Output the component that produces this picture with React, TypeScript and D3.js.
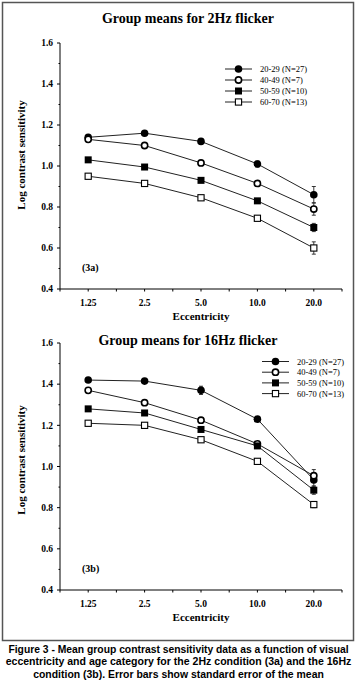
import React from "react";
import * as d3 from "d3";

const eccentricities = ["1.25", "2.5", "5.0", "10.0", "20.0"];
const groups = ["20-29 (N=27)", "40-49 (N=7)", "50-59 (N=10)", "60-70 (N=13)"];
const yTicks = [0.4, 0.6, 0.8, 1.0, 1.2, 1.4, 1.6];
const yMinorTicks = [0.5, 0.7, 0.9, 1.1, 1.3, 1.5];

const hz2Means = [
  [1.14, 1.16, 1.12, 1.01, 0.86],
  [1.13, 1.10, 1.015, 0.915, 0.79],
  [1.03, 0.995, 0.93, 0.83, 0.70],
  [0.95, 0.915, 0.845, 0.745, 0.60],
];
const hz2Errors = [
  [0.005, 0.005, 0.01, 0.015, 0.04],
  [0.005, 0.005, 0.01, 0.01, 0.03],
  [0.005, 0.005, 0.01, 0.01, 0.02],
  [0.005, 0.005, 0.005, 0.01, 0.03],
];
const hz16Means = [
  [1.42, 1.415, 1.37, 1.23, 0.935],
  [1.37, 1.31, 1.225, 1.11, 0.955],
  [1.28, 1.26, 1.18, 1.10, 0.885],
  [1.21, 1.20, 1.13, 1.025, 0.815],
];
const hz16Errors = [
  [0.005, 0.005, 0.02, 0.01, 0.03],
  [0.005, 0.005, 0.01, 0.01, 0.03],
  [0.005, 0.005, 0.01, 0.01, 0.02],
  [0.005, 0.005, 0.01, 0.01, 0.015],
];

const captionLines = [
  "Figure 3 - Mean group contrast sensitivity data as a function of visual",
  "eccentricity and age category for the 2Hz condition (3a) and the 16Hz",
  "condition (3b). Error bars show standard error of the mean",
];
const captionScale = [0.94, 0.96, 0.95];

const SERIF = "'Liberation Serif', 'Times New Roman', serif";
const SANS = "'Liberation Sans', Arial, sans-serif";

function Marker({ kind, x, y }: { kind: number; x: number; y: number }) {
  if (kind === 0) return <circle cx={x} cy={y} r={3.8} fill="#000" />;
  if (kind === 1)
    return <circle cx={x} cy={y} r={3.1} fill="#fff" stroke="#000" strokeWidth={1.6} />;
  if (kind === 2) return <rect x={x - 3.5} y={y - 3.5} width={7} height={7} fill="#000" />;
  return <rect x={x - 3.1} y={y - 3.1} width={6.2} height={6.2} fill="#fff" stroke="#000" strokeWidth={1.1} />;
}

function Panel({
  title, tag, means, errors, top, bottom, titleY, legendX, legendY, legendStep, yLabelCenter,
}: {
  title: string; tag: string; means: number[][]; errors: number[][];
  top: number; bottom: number; titleY: number; legendX: number; legendY: number;
  legendStep: number; yLabelCenter: number;
}) {
  const x = d3.scaleLinear().domain([-0.5, 4.5]).range([60, 342]);
  const y = d3.scaleLinear().domain([0.4, 1.6]).range([bottom, top]);
  const line = d3.line<number>().x((_, i) => x(i)).y((v) => y(v));
  const xTickIdx = d3.range(-0.5, 4.51, 0.5);
  return (
    <g>
      <text x={188} y={titleY} textAnchor="middle" fontFamily={SERIF} fontWeight="bold" fontSize={14}>
        {title}
      </text>
      {/* y axis */}
      <line x1={x(-0.5)} x2={x(-0.5)} y1={y(1.6)} y2={y(0.4)} stroke="#000" strokeWidth={1} />
      {yTicks.map((t) => (
        <g key={t}>
          <line x1={x(-0.5) - 3} x2={x(-0.5)} y1={y(t)} y2={y(t)} stroke="#000" strokeWidth={1} />
          <text x={53} y={y(t) + 3.3} textAnchor="end" fontFamily={SERIF} fontWeight="bold" fontSize={9.5}>
            {t.toFixed(1)}
          </text>
        </g>
      ))}
      {yMinorTicks.map((t) => (
        <line key={t} x1={x(-0.5) - 1.5} x2={x(-0.5)} y1={y(t)} y2={y(t)} stroke="#000" strokeWidth={1} />
      ))}
      <text
        transform={`translate(25,${yLabelCenter}) rotate(-90)`}
        textAnchor="middle" fontFamily={SERIF} fontWeight="bold" fontSize={11}
      >
        Log contrast sensitivity
      </text>
      {/* x axis */}
      <line x1={x(-0.5)} x2={x(4.5)} y1={y(0.4)} y2={y(0.4)} stroke="#000" strokeWidth={1} />
      {xTickIdx.map((t) => (
        <line key={t} x1={x(t)} x2={x(t)} y1={y(0.4)} y2={y(0.4) + 2.5} stroke="#000" strokeWidth={1} />
      ))}
      {eccentricities.map((e, i) => (
        <text key={e} x={x(i)} y={y(0.4) + 17} textAnchor="middle" fontFamily={SERIF} fontWeight="bold" fontSize={9.5}>
          {e}
        </text>
      ))}
      <text x={201} y={y(0.4) + 31} textAnchor="middle" fontFamily={SERIF} fontWeight="bold" fontSize={11}>
        Eccentricity
      </text>
      <text x={82} y={y(0.4) - 18} fontFamily={SERIF} fontWeight="bold" fontSize={10}>
        {tag}
      </text>
      {/* series */}
      {means.map((s, gi) => (
        <path key={"l" + gi} d={line(s) || ""} fill="none" stroke="#222" strokeWidth={1} />
      ))}
      {means.map((s, gi) =>
        s.map((v, i) => {
          const e = errors[gi][i];
          return (
            <g key={`e${gi}-${i}`} stroke="#222" strokeWidth={0.9}>
              <line x1={x(i)} x2={x(i)} y1={y(v - e)} y2={y(v + e)} />
              <line x1={x(i) - 2} x2={x(i) + 2} y1={y(v + e)} y2={y(v + e)} />
              <line x1={x(i) - 2} x2={x(i) + 2} y1={y(v - e)} y2={y(v - e)} />
            </g>
          );
        })
      )}
      {means.map((s, gi) => s.map((v, i) => <Marker key={`m${gi}-${i}`} kind={gi} x={x(i)} y={y(v)} />))}
      {/* legend */}
      {groups.map((g, gi) => {
        const ly = legendY + gi * legendStep;
        return (
          <g key={g}>
            <line x1={legendX} x2={legendX + 27} y1={ly} y2={ly} stroke="#222" strokeWidth={1} />
            <Marker kind={gi} x={legendX + 13.5} y={ly} />
            <text x={legendX + 35} y={ly + 3} fontFamily={SERIF} fontSize={8.5}>
              {g}
            </text>
          </g>
        );
      })}
    </g>
  );
}

export default function App() {
  return (
    <svg width={357} height={680} style={{ position: "absolute", left: 0, top: 0, background: "#fff" }}>
      <rect x={2.5} y={2.5} width={351} height={638} fill="#fff" stroke="#555" strokeWidth={1.5} />
      <Panel
        title="Group means for 2Hz flicker" tag="(3a)" means={hz2Means} errors={hz2Errors}
        top={43} bottom={289} titleY={23} legendX={225} legendY={69} legendStep={11} yLabelCenter={155}
      />
      <Panel
        title="Group means for 16Hz flicker" tag="(3b)" means={hz16Means} errors={hz16Errors}
        top={343} bottom={590} titleY={345} legendX={262} legendY={361.5} legendStep={10.7} yLabelCenter={460}
      />
      {captionLines.map((c, i) => (
        <text
          key={i} transform={`translate(178.5,${653 + i * 12.3}) scale(${captionScale[i]},1)`}
          x={0} y={0} textAnchor="middle" fontFamily={SANS} fontWeight="bold" fontSize={11}
        >
          {c}
        </text>
      ))}
    </svg>
  );
}
